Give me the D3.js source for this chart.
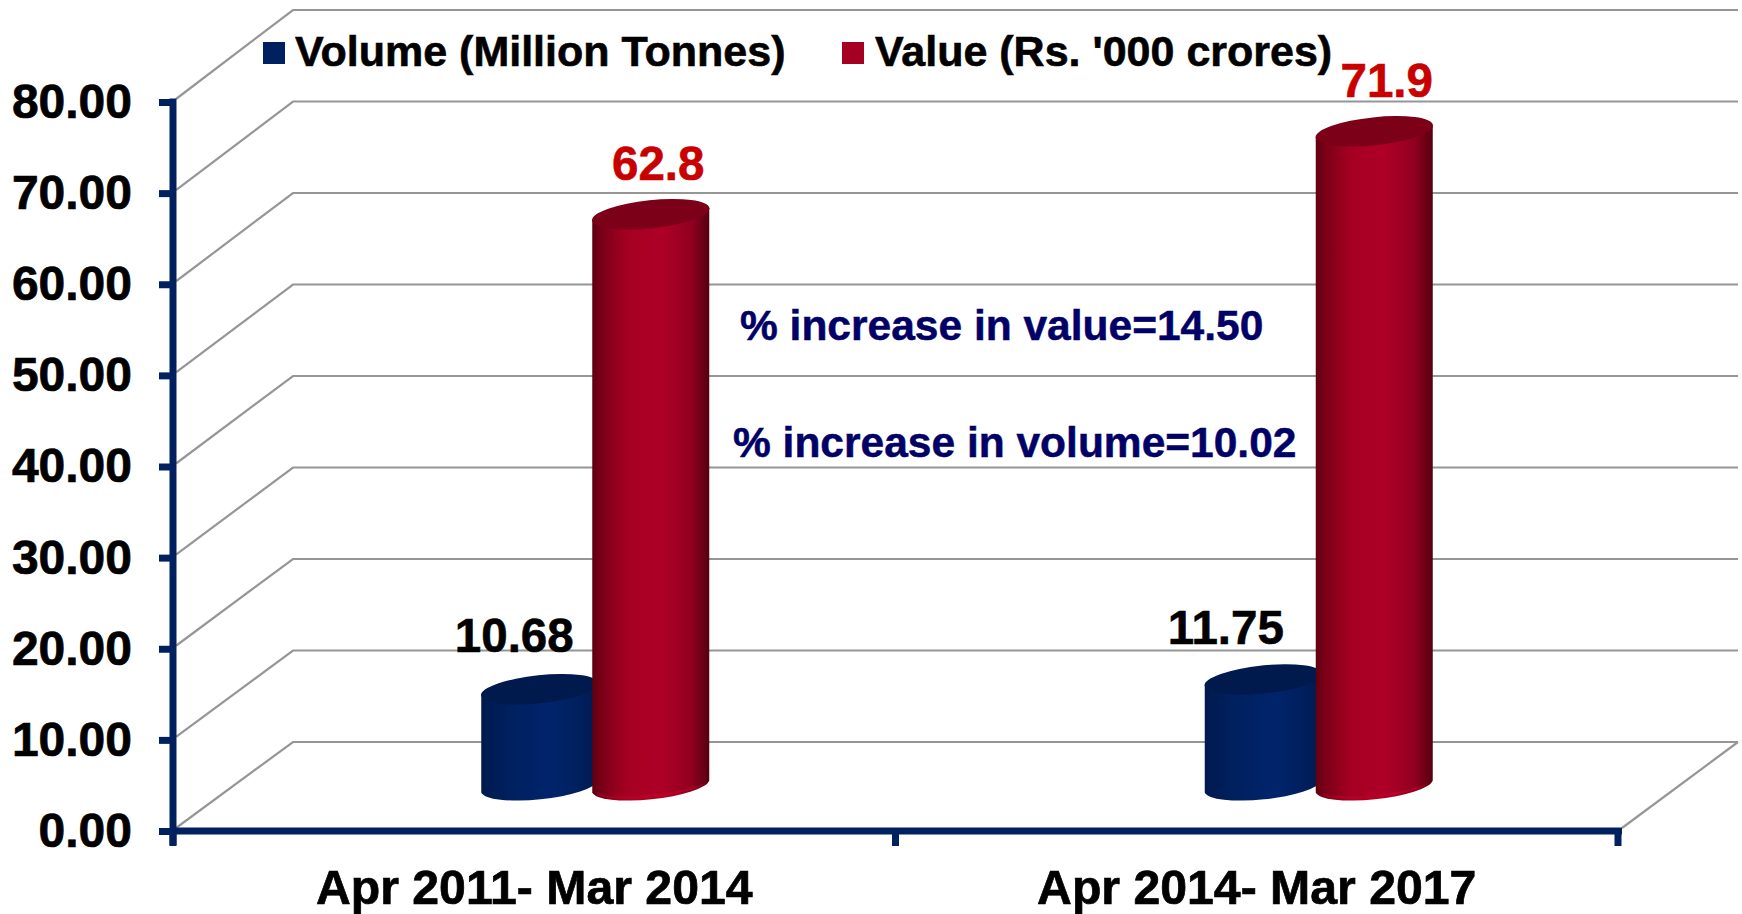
<!DOCTYPE html>
<html><head><meta charset="utf-8">
<script src="https://cdnjs.cloudflare.com/ajax/libs/d3/7.8.5/d3.min.js"></script>
<style>html,body{margin:0;padding:0;background:#fff;overflow:hidden}svg{display:block}text{font-family:"Liberation Sans",Arial,sans-serif;font-weight:bold}</style>
</head><body><svg id="c" width="1742" height="914"></svg>
<script>
const categories = ["Apr 2011- Mar 2014", "Apr 2014- Mar 2017"];
const seriesNames = ["Volume (Million Tonnes)", "Value (Rs. '000 crores)"];
const volume = [10.68, 11.75];
const value = [62.8, 71.9];
const volumeLabels = ["10.68", "11.75"];
const valueLabels = ["62.8", "71.9"];
const yTicks = [0, 10, 20, 30, 40, 50, 60, 70, 80];
const notes = ["% increase in value=14.50", "% increase in volume=10.02"];

const svg = d3.select("#c");
const NAVY = "#002060", GRID = "#969696";
const x = d3.scaleBand().domain(categories).range([173, 1618]);
const y = d3.scaleLinear().domain([0, 80]).range([831, 102]);
const yBack = d3.scaleLinear().domain([0, 80]).range([742, 10]);
const backX = 293, backRight = 1738, axisRight = 1622;
const depth = 61, barBase = 44.5, barW = 117;
const sub = d3.scaleBand().domain([0, 1]).range([-110, 122]);
const rx = 59, ry = 14, lean = 6;
const yBar = v => y(v) - barBase;
const bold = (s, c, w) => s.attr("fill", c).attr("stroke", c).attr("stroke-width", w);

const defs = svg.append("defs");
function grad(id, stops) {
  const g = defs.append("linearGradient").attr("id", id);
  stops.forEach(s => g.append("stop").attr("offset", s[0]).attr("stop-color", s[1]));
}
grad("gBlue", [[0, "#001a50"], [.25, "#00205f"], [.6, "#00246c"], [.85, "#001f5c"], [1, "#001a50"]]);
grad("gRed", [[0, "#5e0010"], [.08, "#7a0018"], [.3, "#a50021"], [.6, "#ae0027"], [.85, "#900020"], [1, "#55000f"]]);

// walls
const grid = svg.append("g").attr("fill", "none").attr("stroke", GRID).attr("stroke-width", 2.2);
yTicks.forEach(t => {
  grid.append("path").attr("d", d3.line()([[x.range()[0] + 3, y(t) - 3], [backX, yBack(t)], [backRight, yBack(t)]]));
});
grid.append("line").attr("x1", axisRight).attr("y1", y(0) - 3).attr("x2", backRight).attr("y2", yBack(0));

// cylinders
function cyl(g, cx, v, fill, capFill, rim) {
  const t = yBar(v), b = yBar(0);
  const xl = cx - barW / 2, xr = cx + barW / 2;
  g.append("path").attr("fill", fill).attr("d",
    `M${xl},${t + lean}L${xl},${b + lean}A${rx},${ry} -6 0 0 ${xr},${b - lean}L${xr},${t - lean}A${rx},${ry} -6 0 0 ${xl},${t + lean}Z`);
  g.append("ellipse").attr("cx", cx).attr("cy", t).attr("rx", rx).attr("ry", ry)
    .attr("transform", `rotate(-6 ${cx} ${t})`).attr("fill", capFill);
  if (rim) g.append("path").attr("fill", rim).attr("opacity", .55)
    .attr("d", `M${xl + 2},${b + lean + 1}A${rx},${ry} -6 0 0 ${xr - 2},${b - lean + 1}A${rx},${ry * 0.72} -6 0 1 ${xl + 2},${b + lean + 1}Z`);
}
const bars = svg.append("g");
categories.forEach((c, i) => {
  const cx = x(c) + x.bandwidth() / 2 + depth + i;
  cyl(bars, cx + sub(0) + sub.bandwidth() / 2 - 3.5, volume[i], "url(#gBlue)", "#001a4e", null);
  cyl(bars, cx + sub(1) + sub.bandwidth() / 2 - 8.5, value[i], "url(#gRed)", "#7d0019", "#c4002a");
});

// axes
const yAxis = d3.axisLeft(y).tickValues(yTicks).tickFormat(d3.format(".2f")).tickSize(14).tickPadding(27);
const gy = svg.append("g").attr("transform", "translate(173,0)").call(yAxis);
const xAxis = d3.axisBottom(x).tickValues([]).tickSizeOuter(0);
const gx = svg.append("g").attr("transform", `translate(0,${y(0)})`).call(xAxis);
gx.select(".domain").remove();
gy.select(".domain").remove();
gy.selectAll("line").attr("stroke", NAVY).attr("stroke-width", 7);
bold(gy.selectAll("text"), "#000", .7).attr("font-size", 48).style("font-family", '"Liberation Sans"').style("font-weight", "bold");
svg.append("line").attr("x1", 173).attr("x2", 173).attr("y1", y(80) - 3.5).attr("y2", y(0) + 14).attr("stroke", NAVY).attr("stroke-width", 7);
svg.append("line").attr("x1", 173).attr("x2", axisRight).attr("y1", y(0)).attr("y2", y(0)).attr("stroke", NAVY).attr("stroke-width", 7);
[x.range()[0], x.range()[0] + x.bandwidth(), x.range()[1]].forEach(p => {
  svg.append("line").attr("x1", p).attr("x2", p).attr("y1", y(0)).attr("y2", y(0) + 15).attr("stroke", NAVY).attr("stroke-width", 7);
});
categories.forEach(c => {
  bold(svg.append("text"), "#000", .7).attr("x", x(c) + x.bandwidth() / 2).attr("y", 904).attr("text-anchor", "middle")
    .attr("font-size", 48.2).text(c);
});

// data labels
const volumeNudge = [[-81, -37], [-92, -35]];
const valueNudge = [[63, -34], [69, -34]];
categories.forEach((c, i) => {
  const cx = x(c) + x.bandwidth() / 2 + depth;
  bold(svg.append("text"), "#000", .6).attr("x", cx + volumeNudge[i][0]).attr("y", yBar(volume[i]) + volumeNudge[i][1]).attr("text-anchor", "middle")
    .attr("font-size", 47.5).text(volumeLabels[i]);
  bold(svg.append("text"), "#c80000", .6).attr("x", cx + valueNudge[i][0]).attr("y", yBar(value[i]) + valueNudge[i][1]).attr("text-anchor", "middle")
    .attr("font-size", 47.5).text(valueLabels[i]);
});

// legend
const lg = svg.append("g");
[[263, 295, NAVY], [842, 875, "#a50021"]].forEach((p, i) => {
  lg.append("rect").attr("x", p[0]).attr("y", 42).attr("width", 22).attr("height", 22).attr("fill", p[2]);
  bold(lg.append("text"), "#000", .6).attr("x", p[1]).attr("y", 66).attr("font-size", 43).text(seriesNames[i]);
});

// notes
bold(svg.append("text"), "#000066", .5).attr("x", 740).attr("y", 340).attr("font-size", 42.5).text(notes[0]);
bold(svg.append("text"), "#000066", .5).attr("x", 733).attr("y", 457).attr("font-size", 42.5).text(notes[1]);
</script></body></html>
